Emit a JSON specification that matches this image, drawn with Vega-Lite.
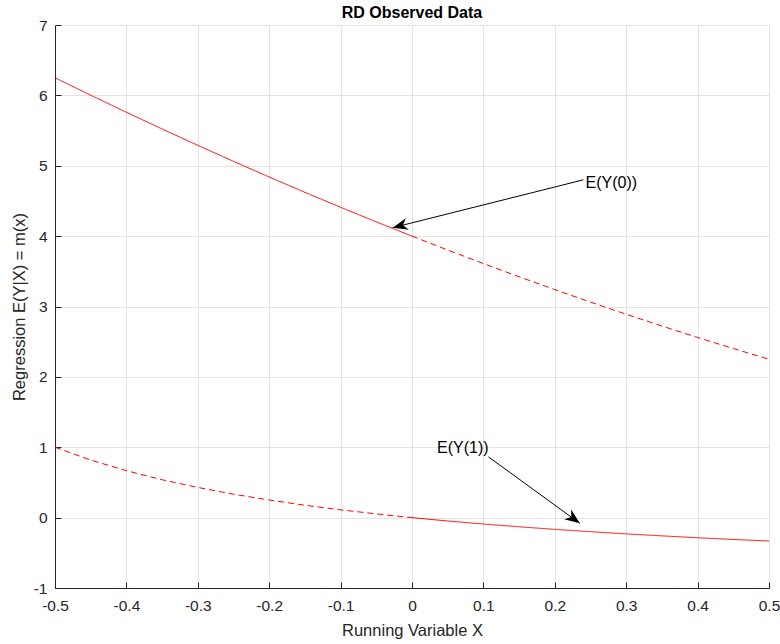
{
  "$schema": "https://vega.github.io/schema/vega-lite/v6.json",
  "width": 714,
  "height": 563,
  "autosize": {"type": "none"},
  "padding": {"left": 55, "top": 25, "right": 11, "bottom": 56},
  "title": {"text": "RD Observed Data", "fontSize": 16, "fontWeight": "bold", "color": "#000000", "font": "Liberation Sans", "offset": -3},
  "config": {
    "font": "Liberation Sans",
    "view": {"stroke": null},
    "axis": {
      "domainColor": "#262626",
      "domainWidth": 1,
      "gridColor": "#e3e3e3",
      "gridWidth": 1,
      "tickColor": "#262626",
      "tickSize": -6,
      "labelFontSize": 15.5,
      "labelColor": "#262626",
      "labelFont": "Liberation Sans",
      "titleFont": "Liberation Sans",
      "titleFontSize": 16.5,
      "titleFontWeight": "normal",
      "titleColor": "#262626",
      "labelFlush": false,
      "labelOverlap": false
    }
  },
  "layer": [
    {
      "data": {"values": [
        {"x": -0.5, "y": 6.25, "curve": "Y0", "seg": "solid"},
        {"x": -0.45, "y": 6.0025, "curve": "Y0", "seg": "solid"},
        {"x": -0.4, "y": 5.76, "curve": "Y0", "seg": "solid"},
        {"x": -0.35, "y": 5.5225, "curve": "Y0", "seg": "solid"},
        {"x": -0.3, "y": 5.29, "curve": "Y0", "seg": "solid"},
        {"x": -0.25, "y": 5.0625, "curve": "Y0", "seg": "solid"},
        {"x": -0.2, "y": 4.84, "curve": "Y0", "seg": "solid"},
        {"x": -0.15, "y": 4.6225, "curve": "Y0", "seg": "solid"},
        {"x": -0.1, "y": 4.41, "curve": "Y0", "seg": "solid"},
        {"x": -0.05, "y": 4.2025, "curve": "Y0", "seg": "solid"},
        {"x": 0, "y": 4.0, "curve": "Y0", "seg": "solid"},
        {"x": 0, "y": 4.0, "curve": "Y0", "seg": "dashed"},
        {"x": 0.05, "y": 3.8025, "curve": "Y0", "seg": "dashed"},
        {"x": 0.1, "y": 3.61, "curve": "Y0", "seg": "dashed"},
        {"x": 0.15, "y": 3.4225, "curve": "Y0", "seg": "dashed"},
        {"x": 0.2, "y": 3.24, "curve": "Y0", "seg": "dashed"},
        {"x": 0.25, "y": 3.0625, "curve": "Y0", "seg": "dashed"},
        {"x": 0.3, "y": 2.89, "curve": "Y0", "seg": "dashed"},
        {"x": 0.35, "y": 2.7225, "curve": "Y0", "seg": "dashed"},
        {"x": 0.4, "y": 2.56, "curve": "Y0", "seg": "dashed"},
        {"x": 0.45, "y": 2.4025, "curve": "Y0", "seg": "dashed"},
        {"x": 0.5, "y": 2.25, "curve": "Y0", "seg": "dashed"},
        {"x": -0.5, "y": 1.0, "curve": "Y1", "seg": "dashed"},
        {"x": -0.45, "y": 0.818, "curve": "Y1", "seg": "dashed"},
        {"x": -0.4, "y": 0.667, "curve": "Y1", "seg": "dashed"},
        {"x": -0.35, "y": 0.538, "curve": "Y1", "seg": "dashed"},
        {"x": -0.3, "y": 0.429, "curve": "Y1", "seg": "dashed"},
        {"x": -0.25, "y": 0.333, "curve": "Y1", "seg": "dashed"},
        {"x": -0.2, "y": 0.25, "curve": "Y1", "seg": "dashed"},
        {"x": -0.15, "y": 0.176, "curve": "Y1", "seg": "dashed"},
        {"x": -0.1, "y": 0.111, "curve": "Y1", "seg": "dashed"},
        {"x": -0.05, "y": 0.053, "curve": "Y1", "seg": "dashed"},
        {"x": 0, "y": 0.0, "curve": "Y1", "seg": "dashed"},
        {"x": 0, "y": 0.0, "curve": "Y1", "seg": "solid"},
        {"x": 0.05, "y": -0.048, "curve": "Y1", "seg": "solid"},
        {"x": 0.1, "y": -0.091, "curve": "Y1", "seg": "solid"},
        {"x": 0.15, "y": -0.13, "curve": "Y1", "seg": "solid"},
        {"x": 0.2, "y": -0.167, "curve": "Y1", "seg": "solid"},
        {"x": 0.25, "y": -0.2, "curve": "Y1", "seg": "solid"},
        {"x": 0.3, "y": -0.231, "curve": "Y1", "seg": "solid"},
        {"x": 0.35, "y": -0.259, "curve": "Y1", "seg": "solid"},
        {"x": 0.4, "y": -0.286, "curve": "Y1", "seg": "solid"},
        {"x": 0.45, "y": -0.31, "curve": "Y1", "seg": "solid"},
        {"x": 0.5, "y": -0.333, "curve": "Y1", "seg": "solid"}
      ]},
      "mark": {"type": "line", "color": "#ff0000", "strokeWidth": 1},
      "encoding": {
        "x": {"field": "x", "type": "quantitative", "scale": {"domain": [-0.5, 0.5], "nice": false, "zero": false},
          "axis": {"title": "Running Variable X", "values": [-0.5, -0.4, -0.3, -0.2, -0.1, 0, 0.1, 0.2, 0.3, 0.4, 0.5],
            "labelExpr": "replace(format(datum.value, '.1~f'), '\u2212', '-')", "labelPadding": 16, "titleBaseline": "middle", "titleY": 42}},
        "y": {"field": "y", "type": "quantitative", "scale": {"domain": [-1, 7], "nice": false, "zero": false},
          "axis": {"title": "Regression E(Y|X) = m(x)", "values": [-1, 0, 1, 2, 3, 4, 5, 6, 7],
            "labelExpr": "replace(format(datum.value, 'd'), '\u2212', '-')", "labelPadding": 14, "titleBaseline": "middle", "titleX": -36}},
        "detail": {"field": "curve"},
        "strokeDash": {"field": "seg", "type": "nominal", "scale": {"domain": ["solid", "dashed"], "range": [[1, 0], [6, 4]]}, "legend": null}
      }
    },
    {
      "data": {"values": [
        {"x": 0.24, "y": 4.8, "x2": -0.027, "y2": 4.12},
        {"x": 0.107, "y": 0.864, "x2": 0.235, "y2": -0.08}
      ]},
      "mark": {"type": "rule", "color": "#000000", "strokeWidth": 1},
      "encoding": {
        "x": {"field": "x", "type": "quantitative"},
        "y": {"field": "y", "type": "quantitative"},
        "x2": {"field": "x2"},
        "y2": {"field": "y2"}
      }
    },
    {
      "data": {"values": [{"x": -0.027, "y": 4.12}]},
      "mark": {"type": "point", "shape": "M0,0L0.4,1L0,0.7L-0.4,1Z", "size": 900, "filled": true, "color": "#000000", "opacity": 1, "angle": 255.8},
      "encoding": {
        "x": {"field": "x", "type": "quantitative"},
        "y": {"field": "y", "type": "quantitative"}
      }
    },
    {
      "data": {"values": [{"x": 0.235, "y": -0.08}]},
      "mark": {"type": "point", "shape": "M0,0L0.4,1L0,0.7L-0.4,1Z", "size": 900, "filled": true, "color": "#000000", "opacity": 1, "angle": 126.1},
      "encoding": {
        "x": {"field": "x", "type": "quantitative"},
        "y": {"field": "y", "type": "quantitative"}
      }
    },
    {
      "data": {"values": [
        {"x": 0.243, "y": 4.76, "label": "E(Y(0))"},
        {"x": 0.035, "y": 0.99, "label": "E(Y(1))"}
      ]},
      "mark": {"type": "text", "align": "left", "baseline": "middle", "fontSize": 16, "color": "#000000", "font": "Liberation Sans"},
      "encoding": {
        "x": {"field": "x", "type": "quantitative"},
        "y": {"field": "y", "type": "quantitative"},
        "text": {"field": "label"}
      }
    }
  ]
}
